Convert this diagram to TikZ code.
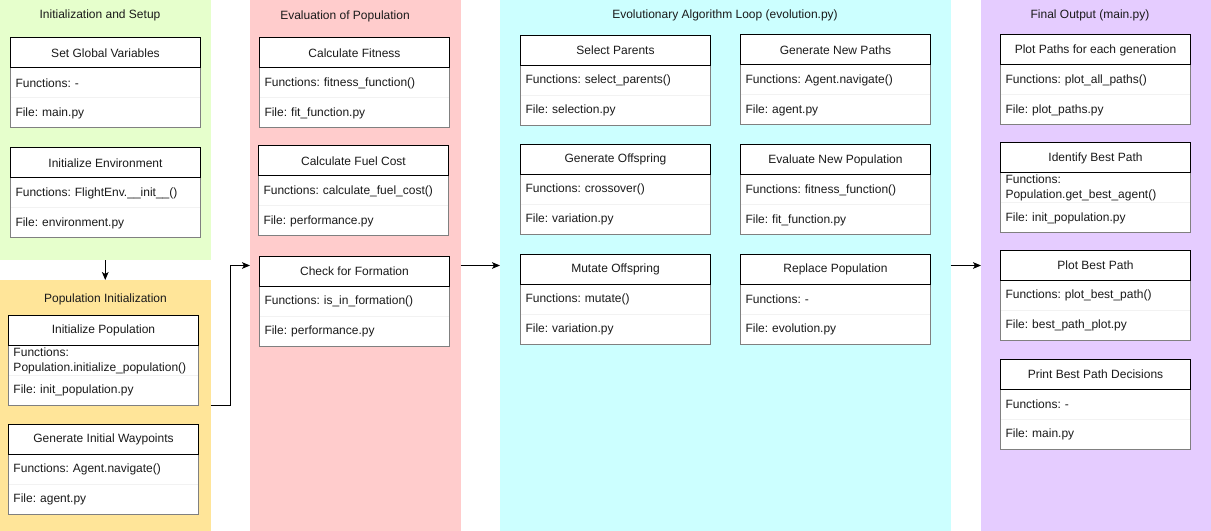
\documentclass[tikz,border=0pt]{standalone}
\usepackage{fontspec}
\setmainfont{Liberation Sans}
\usetikzlibrary{arrows.meta}
\definecolor{cgreen}{HTML}{E6FFCC}
\definecolor{corange}{HTML}{FFE599}
\definecolor{cred}{HTML}{FFCCCC}
\definecolor{ccyan}{HTML}{CCFFFF}
\definecolor{cpurple}{HTML}{E5CCFF}
\definecolor{rowgray}{HTML}{808080}
\definecolor{divgray}{HTML}{F2F2F2}
\definecolor{txt}{HTML}{1A1A1A}
\newcommand\umlbox[6]{%
  \fill[white] (#2,#3) rectangle ++(190,90);
  \node[rowtxt] (#1-f) at (#2,#3+30) {#5};
  \node[rowtxt] (#1-l) at (#2,#3+60) {#6};
  \draw[divline] (#2,#3+60) -- ++(190,0);
  \draw[boxline] (#2,#3+30) rectangle ++(190,60);
  \node[hdr] (#1) at (#2,#3) {#4};
}
\begin{document}
\begin{tikzpicture}[x=0.75pt,y=-0.75pt,
  font=\fontsize{9}{11.25}\selectfont\frenchspacing, text=txt,
  cont/.style={draw=none, inner sep=0, outer sep=0, anchor=north west},
  hdr/.style={draw=black, fill=white, line width=0.75pt, minimum width=142.5pt, minimum height=22.5pt, inner sep=0, outer sep=0, anchor=north west},
  rowtxt/.style={inner xsep=3.75pt, inner ysep=0, outer sep=0, text width=135pt, align=left, minimum height=22.5pt, anchor=north west},
  boxline/.style={draw=rowgray, line width=0.75pt},
  divline/.style={draw=divgray, line width=0.75pt},
  conn/.style={draw=black, line width=0.75pt, -{Stealth[length=6pt,width=5pt,inset=1.5pt]}},
  ttl/.style={inner sep=0}]
\useasboundingbox (0,0) rectangle (1211,531);
% containers
\node[cont, fill=cgreen, minimum width=157.875pt, minimum height=195.375pt] (green) at (0,0) {};
\node[cont, fill=corange, minimum width=157.875pt, minimum height=188.25pt] (orange) at (0,280) {};
\node[cont, fill=cred, minimum width=157.875pt, minimum height=398.25pt] (red) at (250,0) {};
\node[cont, fill=ccyan, minimum width=337.875pt, minimum height=398.25pt] (cyan) at (500,0) {};
\node[cont, fill=cpurple, minimum width=172.5pt, minimum height=398.25pt] (purple) at (981,0) {};
% titles
\node[ttl] (tgreen) at (100,15.5) {Initialization and Setup};
\node[ttl] (torange) at (105.5,299.5) {Population Initialization};
\node[ttl] (tred) at (345,16.5) {Evaluation of Population};
\node[ttl] (tcyan) at (725,15) {Evolutionary Algorithm Loop (evolution.py)};
\node[ttl] (tpurple) at (1090,15.5) {Final Output (main.py)};
% green
\umlbox{sgv}{10.5}{38}{Set Global Variables}{Functions: -}{File: main.py}
\umlbox{ienv}{10.5}{148}{Initialize Environment}{Functions: FlightEnv.\_\_init\_\_()}{File: environment.py}
% orange
\umlbox{ipop}{8.5}{315.5}{Initialize Population}{Functions:\\Population.initialize\_population()}{File: init\_population.py}
\umlbox{giw}{8.5}{424.5}{Generate Initial Waypoints}{Functions: Agent.navigate()}{File: agent.py}
% red
\umlbox{cfit}{259.5}{38}{Calculate Fitness}{Functions: fitness\_function()}{File: fit\_function.py}
\umlbox{cfuel}{258.5}{146}{Calculate Fuel Cost}{Functions: calculate\_fuel\_cost()}{File: performance.py}
\umlbox{cform}{259.5}{256.5}{Check for Formation}{Functions: is\_in\_formation()}{File: performance.py}
% cyan
\umlbox{selp}{520.5}{35.5}{Select Parents}{Functions: select\_parents()}{File: selection.py}
\umlbox{genoff}{520.5}{144.5}{Generate Offspring}{Functions: crossover()}{File: variation.py}
\umlbox{mutoff}{520.5}{254.5}{Mutate Offspring}{Functions: mutate()}{File: variation.py}
\umlbox{gnp}{740.5}{35}{Generate New Paths}{Functions: Agent.navigate()}{File: agent.py}
\umlbox{enp}{740.5}{145}{Evaluate New Population}{Functions: fitness\_function()}{File: fit\_function.py}
\umlbox{rpop}{740.5}{254.5}{Replace Population}{Functions: -}{File: evolution.py}
% purple
\umlbox{ppg}{1000.5}{35}{Plot Paths for each generation}{Functions: plot\_all\_paths()}{File: plot\_paths.py}
\umlbox{ibp}{1000.5}{143}{Identify Best Path}{Functions:\\Population.get\_best\_agent()}{File: init\_population.py}
\umlbox{pbp}{1000.5}{250.5}{Plot Best Path}{Functions: plot\_best\_path()}{File: best\_path\_plot.py}
\umlbox{pbpd}{1000.5}{359}{Print Best Path Decisions}{Functions: -}{File: main.py}
% connectors
\draw[conn] (green.south) -- (orange.north);
\draw[conn] (orange.east) -- ++(20,0) |- (red.west);
\draw[conn] (red.east) -- (cyan.west);
\draw[conn] (cyan.east) -- (purple.west);
\end{tikzpicture}
\end{document}
